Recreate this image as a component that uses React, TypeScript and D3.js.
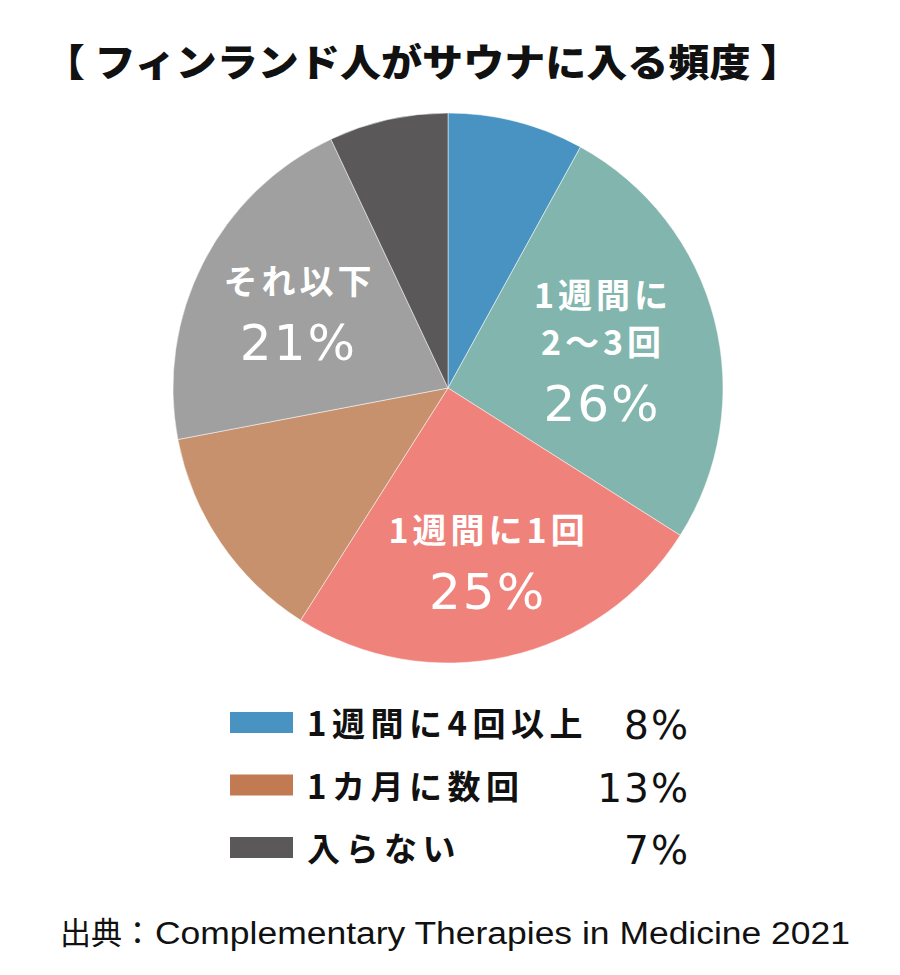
import React from "react";
import * as d3 from "d3";

const categories = ["1週間に4回以上", "1週間に2〜3回", "1週間に1回", "1カ月に数回", "それ以下", "入らない"];
const values = [8, 26, 25, 13, 21, 7];
const sliceColors = ["#4893C2", "#82B5AD", "#EF837C", "#C8916E", "#9FA09F", "#5A5859"];
const legendColors = ["#4893C2", "#C17A52", "#5A5859"];
// labels drawn inside slices: index -> lines
const insideLabels: { [k: number]: string[] } = { 1: ["1週間に", "2〜3回"], 2: ["1週間に1回"], 4: ["それ以下"] };
const legendIdx = [0, 3, 5];
const legendNames = ["1週間に4回以上", "1カ月に数回", "入らない"];

// layout (styling) constants
const labelRadius: { [k: number]: number } = { 1: 158, 2: 177, 4: 169 };
const W = 900, H = 975;
const cx = 448, cy = 388, R = 275;
const jp = "'Noto Sans CJK JP', 'Liberation Sans', sans-serif";
const num = "'Liberation Sans', 'Noto Sans CJK JP', sans-serif";
const pct = "'DejaVu Sans', 'Liberation Sans', sans-serif";

export default function App() {
  const pie = d3.pie<number>().value((d) => d).sort(null)(values);
  const arc = d3.arc<d3.PieArcDatum<number>>().innerRadius(0).outerRadius(R);
  return (
    <svg width={W} height={H} style={{ position: "absolute", left: 0, top: 0, background: "#fff" }}>
      <text x={44} y={76} fontFamily={jp} fontWeight={900} fontSize={38} fill="#111" textLength={757} lengthAdjust="spacingAndGlyphs">【 フィンランド人がサウナに入る頻度 】</text>
      <g transform={`translate(${cx},${cy})`}>
        {pie.map((p, i) => (
          <path key={i} d={arc(p) || ""} fill={sliceColors[i]} stroke="#fff" strokeWidth={0.5} />
        ))}
        {pie.map((p, i) => {
          const lines = insideLabels[i];
          if (!lines) return null;
          const r = labelRadius[i];
          const [lx, ly] = d3.arc<d3.PieArcDatum<number>>().innerRadius(r).outerRadius(r).centroid(p);
          const n = lines.length;
          const lineH = 47;
          const total = 31 + (n - 1) * lineH + 66;
          const first = ly - total / 2 + 31;
          return (
            <g key={"l" + i} fill="#fff" textAnchor="middle">
              {lines.map((s, j) => (
                <text key={j} x={lx + 2} y={first + j * lineH} fontFamily={jp} fontWeight={700} fontSize={34} letterSpacing={4}>{s}</text>
              ))}
              <text x={lx + 1} y={first + (n - 1) * lineH + 66} fontFamily={pct} fontSize={50} letterSpacing={2}>{values[i]}%</text>
            </g>
          );
        })}
      </g>
      {legendIdx.map((idx, k) => {
        const y = 712 + k * 62.5;
        return (
          <g key={k}>
            <rect x={230} y={y} width={63} height={21} fill={legendColors[k]} />
            <text x={307} y={y + 24} fontFamily={jp} fontWeight={700} fontSize={33} letterSpacing={5.5} fill="#111">{legendNames[k]}</text>
            <text x={690} y={y + 27} textAnchor="end" fontFamily={pct} fontSize={39} letterSpacing={2} fill="#111">{values[idx]}%</text>
          </g>
        );
      })}
      <text y={944} fontFamily={num} fontSize={31} fill="#111">
        <tspan x={60} fontFamily={jp}>出典：</tspan>
        <tspan x={155} textLength={695} lengthAdjust="spacingAndGlyphs">Complementary Therapies in Medicine 2021</tspan>
      </text>
    </svg>
  );
}
